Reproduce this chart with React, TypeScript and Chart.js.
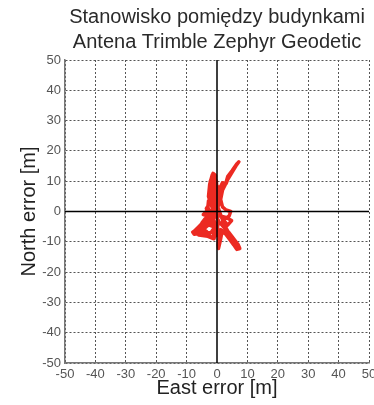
import React, { useEffect, useRef } from "react";
import { Chart, registerables } from "chart.js";

Chart.register(...registerables);

const TITLE_LINES = ["Stanowisko pomiędzy budynkami", "Antena Trimble Zephyr Geodetic"];
const X_LABEL = "East error [m]";
const Y_LABEL = "North error [m]";
const AXIS_MIN = -50;
const AXIS_MAX = 50;
const TICK_STEP = 10;

const EAST = [
  0, -1, -2.2, -2.6, -2.2, -1.3, -0.6, -0.4, -0.6, -1.2, -2.5, -3.5, -3, -1.5, -1.8, -2, -1.6, -1, -0.2, 0, -0.3, 0.2,
  0.8, 0.8, 1.8, 3, 3.5, 5, 6.2, 7.2, 6.6, 5, 3.5, 2.8, 1.8, 1.2, 1.8, 3, 4.5,
  4, 2.5, 1.2, 2.5, 4, 5.5, 7, 7.5, 6.5, 5.5, 4, 2.5, 1.2, 0.7, 0.4, 0.5, 1, 1.5, 2.5, 4.5, 6, 7,
  5, 3, 2, 1, -0.5, -2, -3.5, -5, -6.5, -8, -7.5, -6, -4.5, -3.5, -2.5, -1.5, -0.8, -1.2, -2.5, -4, -5.5, -7, -6, -4.5,
  -3, -1.5, -0.5, -0.3, 0.3, 0.2, 0.5, -1, -2.5, -4, -5, -3.5, -2, -1.5, -2.8, -2.4, -1.6, -0.8, -0.8, -1, 0,
  -2, -4, -6, -7.5, -5.5, -3.5, -2, -1, -2, -4, -6, -3, -1, 0, -1, -3, -4.5, -3, -1, 1, 3, 4.8, 3.5, 1.5,
  0.5, -2.5, -3, -2.8, -1, -2.4, -1.5, 0.3, 1.2, 0.5, -0.5,
];
const NORTH = [
  0, 1.5, 4, 7, 10, 12.6, 12, 9, 6, 3.5, 2.5, 1, -0.5, 0.5, 3, 6, 9, 11.5, 10, 7, 4, 2,
  4, 7.5, 9.5, 9.2, 10.5, 13, 15, 16.4, 15.8, 13.5, 11.5, 9, 7, 4, 1.5, 0.5, 0,
  -1.5, -2.5, -4, -5.5, -7, -9, -11, -12.2, -12.5, -11, -9, -7, -6, -8.5, -11, -12.2, -10, -7.5, -6.5, -8.5, -10.5, -11.8,
  -9, -5.5, -3, -1, -1.5, -2.5, -3.5, -4.5, -5.8, -6.8, -7.5, -7.3, -6, -6.5, -8, -8.8, -7, -5, -4.5, -5, -6.5, -7.2, -6, -4.5,
  -3, -2, -4, -6.5, -8, -5, -3, -0.5, -1.5, -2.5, -3.8, -2.5, -0.8, 1, 5, 9, 12, 10.5, 7, 3, 0,
  -1, -3, -5, -6.5, -6.8, -5, -3.5, -5.5, -7, -7, -7.8, -8.2, -9, -6, -3, -1.5, -1, 0.5, -1, -1.5, -2, -3, -4.5, -2,
  1, -0.5, 1.5, 3.5, 5, 8, 11, 8, 5, 2, 0,
];

const FONT = "'Liberation Sans', Arial, sans-serif";

const zeroLines = {
  id: "zeroLines",
  afterDatasetsDraw(chart: any) {
    const { ctx, chartArea, scales } = chart;
    const x0 = scales.x.getPixelForValue(0);
    const y0 = scales.y.getPixelForValue(0);
    ctx.save();
    ctx.strokeStyle = "#000";
    ctx.lineWidth = 1.5;
    ctx.beginPath();
    ctx.moveTo(x0, chartArea.top);
    ctx.lineTo(x0, chartArea.bottom);
    ctx.moveTo(chartArea.left, y0);
    ctx.lineTo(chartArea.right, y0);
    ctx.stroke();
    ctx.restore();
  },
};

export default function App() {
  const ref = useRef<HTMLCanvasElement>(null);
  useEffect(() => {
    if (!ref.current) return;
    const points = EAST.map((e, i) => ({ x: e, y: NORTH[i] }));
    const gridColor = (c: any) => (c.tick && c.tick.value === 0 ? "rgba(0,0,0,0)" : "#555");
    const chart = new Chart(ref.current, {
      type: "scatter",
      data: {
        datasets: [
          {
            data: points,
            showLine: true,
            borderColor: "#ec2a22",
            backgroundColor: "#ec2a22",
            borderWidth: 3.5,
            pointRadius: 0,
            tension: 0,
            borderJoinStyle: "round",
            borderCapStyle: "round",
          } as any,
        ],
      },
      options: {
        animation: false,
        responsive: false,
        devicePixelRatio: 1,
        layout: { padding: { top: 0, right: 5, bottom: 0, left: 0 } },
        plugins: {
          legend: { display: false },
          tooltip: { enabled: false },
          title: {
            display: true,
            text: TITLE_LINES,
            fullSize: false,
            color: "#2a2a2a",
            font: { family: FONT, size: 20, weight: "normal", lineHeight: 1.25 },
            padding: { top: 5, bottom: 5 },
          } as any,
        },
        scales: {
          x: {
            type: "linear",
            min: AXIS_MIN,
            max: AXIS_MAX,
            ticks: { stepSize: TICK_STEP, color: "#555", font: { family: FONT, size: 13 }, padding: 4 },
            grid: { color: gridColor, lineWidth: 1, drawTicks: false },
            border: { display: true, color: "#777", width: 1.5, dash: [2, 2] },
            title: {
              display: true,
              text: X_LABEL,
              color: "#222",
              font: { family: FONT, size: 20 },
              padding: { top: 0, bottom: 5 },
            },
            afterFit: (s: any) => {
              s.height = 42;
              s.paddingLeft = 0;
              s.paddingRight = 0;
            },
          },
          y: {
            type: "linear",
            min: AXIS_MIN,
            max: AXIS_MAX,
            ticks: { stepSize: TICK_STEP, color: "#555", font: { family: FONT, size: 13 }, padding: 4 },
            grid: { color: gridColor, lineWidth: 1, drawTicks: false },
            border: { display: true, color: "#777", width: 1.5, dash: [2, 2] },
            title: {
              display: true,
              text: Y_LABEL,
              color: "#222",
              font: { family: FONT, size: 20 },
              padding: { top: 17, bottom: 0 },
            },
            afterFit: (s: any) => {
              s.width = 65;
              s.paddingTop = 0;
              s.paddingBottom = 0;
            },
          },
        },
      } as any,
      plugins: [zeroLines],
    });
    return () => chart.destroy();
  }, []);
  return (
    <canvas
      ref={ref}
      width={374}
      height={405}
      style={{ position: "absolute", left: 0, top: 0, width: 374, height: 405, background: "#fff" }}
    />
  );
}
